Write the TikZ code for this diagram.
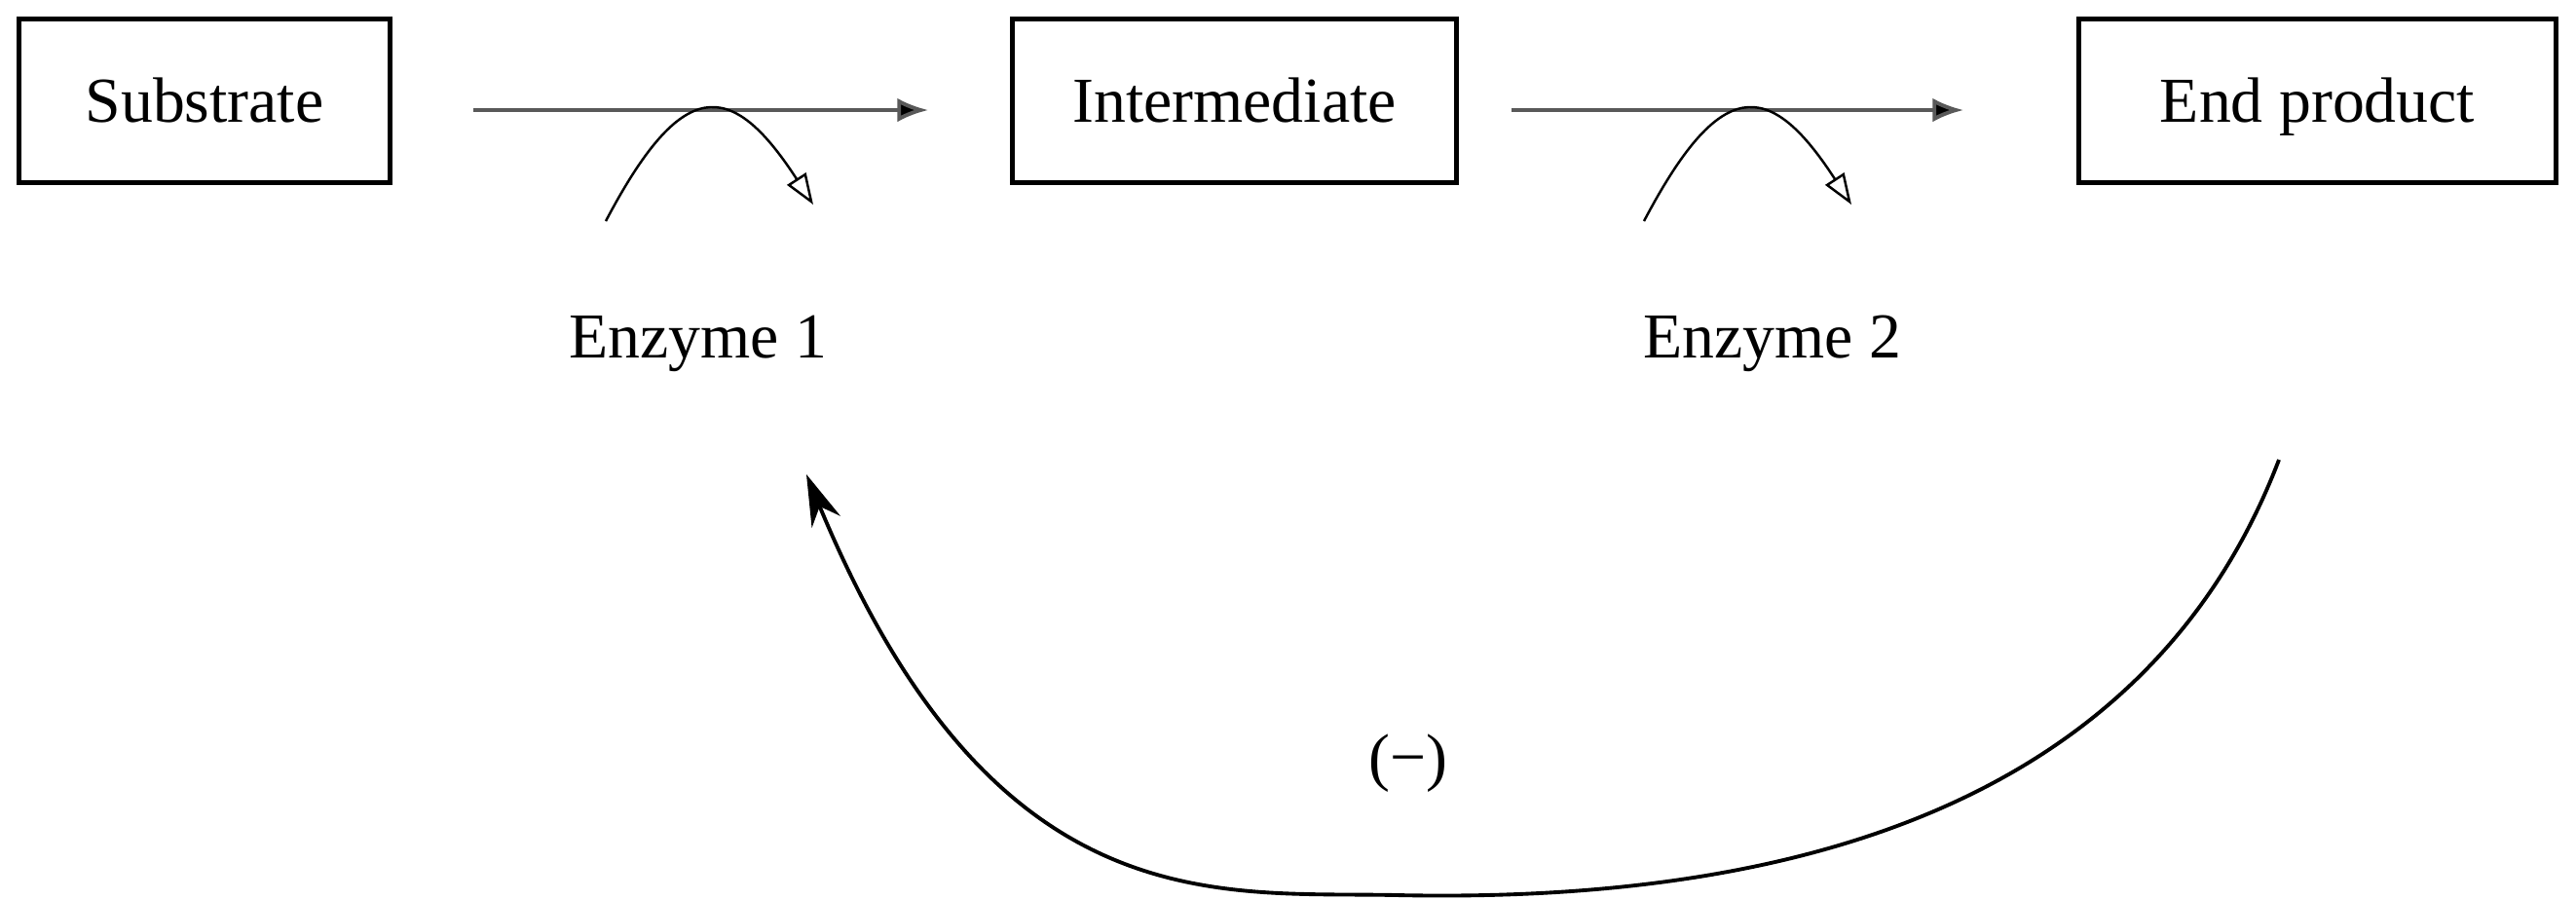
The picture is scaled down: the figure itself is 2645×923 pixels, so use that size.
\documentclass[tikz,border=0pt]{standalone}
\usepackage{fontspec}
\setmainfont{Liberation Serif}
\usetikzlibrary{arrows.meta}
\begin{document}
\begin{tikzpicture}[x=0.01cm,y=-0.01cm,
  txt/.style={font=\fontsize{18.7}{22}\selectfont},
  box/.style={txt, draw, line width=1.4pt, minimum height=1.68cm, inner sep=0pt, text height=12.4pt, text depth=0pt},
  lbl/.style={txt, inner sep=0pt},
  flow/.style={line width=1.1pt, draw=black!65, -{Latex[length=9pt,width=7pt,fill=black]}},
  cat/.style={line width=0.7pt, -{Triangle[open,length=9pt,width=6.5pt]}},
  fb/.style={line width=1.1pt, -{Stealth[length=15pt,width=9pt]}}]
\useasboundingbox (0,0) rectangle (2645,923);

\node[box, minimum width=3.81cm] (sub) at (210,103.5) {Substrate};
\node[box, minimum width=4.56cm] (inter) at (1267.5,103.5) {Intermediate};
\node[box, minimum width=4.90cm] (prod) at (2379.5,103.5) {End product};

\node[lbl, anchor=base] (enz1) at (717,367) {Enzyme 1};
\node[lbl, anchor=base] (enz2) at (1820,367) {Enzyme 2};
\node[lbl] (neg) at (1446,784) {(−)};

\coordinate (f1s) at (486,113);
\coordinate (f1e) at (953,113);
\coordinate (f2s) at (1552,113);
\coordinate (f2e) at (2016,113);
\draw[flow] (f1s) -- (f1e);
\draw[flow] (f2s) -- (f2e);

\coordinate (e1s) at (622,227);
\coordinate (e1e) at (835,210);
\coordinate (e2s) at (1688,227);
\coordinate (e2e) at (1901,210);
\draw[cat] (e1s) .. controls (700,79) and (750,79) .. (e1e);
\draw[cat] (e2s) .. controls (1766,79) and (1816,79) .. (e2e);

\coordinate (fbs) at (2340,472);
\coordinate (fbm) at (1434,919);
\coordinate (fbe) at (828,487);
\draw[fb] (fbs) .. controls (2230,760) and (1950,930) .. (fbm)
  .. controls (1250,915) and (1020,950) .. (fbe);
\end{tikzpicture}
\end{document}
